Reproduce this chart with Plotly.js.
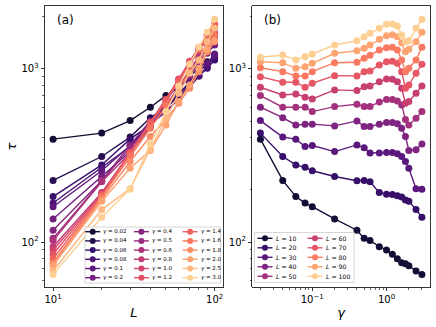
<!DOCTYPE html>
<html><head><meta charset="utf-8">
<script src="https://cdn.plot.ly/plotly-3.0.1.min.js"></script>
<style>html,body{margin:0;padding:0;background:#fff}</style>
</head><body><div id="chart" style="width:436px;height:327px"></div>
<script>
// ---- data ----
const gammaVals = [0.02,0.04,0.06,0.08,0.1,0.2,0.4,0.5,0.6,0.8,1.0,1.2,1.4,1.6,1.8,2.0,2.5,3.0];
const gammaLabels = ['0.02','0.04','0.06','0.08','0.1','0.2','0.4','0.5','0.6','0.8','1.0','1.2','1.4','1.6','1.8','2.0','2.5','3.0'];
const Lvals = [10,20,30,40,50,60,70,80,90,100];
// tau for each L, one value per gamma
const tauL10  = [393,227,183,168,160,136,117,105,102,94,90,85,80,76,75,73,68,65];
const tauL20  = [426,312,279,270,258,239,226,227,223,193,189,188,185,182,175,172,154,139];
const tauL30  = [503,404,393,356,361,333,364,351,327,327,329,329,324,312,292,267,203,202];
const tauL40  = [601,523,475,480,480,469,501,465,465,480,490,490,482,455,407,338,341,369];
const tauL50  = [702,601,601,601,567,606,626,606,606,645,667,667,654,620,511,475,519,567];
const tauL60  = [784,708,717,687,671,757,750,790,798,845,876,872,845,774,634,648,724,798];
const tauL70  = [903,838,838,784,827,915,911,965,974,1055,1102,1108,1079,965,774,809,945,1064];
const tauL80  = [1017,965,911,911,965,1087,1093,1152,1199,1287,1327,1334,1287,1127,965,1009,1127,1334];
const tauL90  = [1102,1087,1009,1031,1079,1232,1275,1317,1376,1484,1556,1578,1536,1418,1259,1300,1438,1629];
const tauL100 = [1168,1205,1127,1178,1221,1376,1456,1536,1607,1718,1811,1820,1772,1571,1438,1456,1718,1936];
const tauByL = [tauL10,tauL20,tauL30,tauL40,tauL50,tauL60,tauL70,tauL80,tauL90,tauL100];

// ---- colours (magma) ----
const magmaStops = ['#000004','#140e36','#3b0f70','#641a80','#8c2981','#b73779','#de4968','#f7705c','#fe9f6d','#fecf92','#fcfdbf'];
function hex2rgb(h){return [parseInt(h.slice(1,3),16),parseInt(h.slice(3,5),16),parseInt(h.slice(5,7),16)];}
function magma(t){
  const s=t*10, i=Math.min(9,Math.floor(s)), f=s-i;
  const a=hex2rgb(magmaStops[i]), b=hex2rgb(magmaStops[i+1]);
  const c=a.map((v,k)=>Math.round(v+(b[k]-v)*f));
  return 'rgb('+c.join(',')+')';
}
function cmap(i,n){return magma(0.1+0.8*i/(n-1));}
const colA = gammaVals.map((g,i)=>cmap(i,gammaVals.length));
const colB = Lvals.map((l,i)=>cmap(i,Lvals.length));

// ---- traces ----
const traces = [];
gammaVals.forEach((g,j)=>{
  traces.push({x:Lvals, y:tauByL.map(a=>a[j]), xaxis:'x', yaxis:'y', type:'scatter', mode:'lines+markers',
    line:{color:colA[j], width:1.4}, marker:{color:colA[j], size:7}, showlegend:false, hoverinfo:'skip'});
});
Lvals.forEach((L,i)=>{
  traces.push({x:gammaVals, y:tauByL[i], xaxis:'x2', yaxis:'y2', type:'scatter', mode:'lines+markers',
    line:{color:colB[i], width:1.4}, marker:{color:colB[i], size:7}, showlegend:false, hoverinfo:'skip'});
});

// ---- layout helpers (pixel -> paper) ----
const W=436,H=327,ML=45,MR=6,MT=6,MB=40;
const PW=W-ML-MR, PH=H-MT-MB;
const px=p=>(p-ML)/PW, py=p=>(MT+PH-p)/PH;
const FONT='DejaVu Sans, sans-serif';

const shapes=[], annotations=[];
function legendBox(x0,x1,y0,y1){
  shapes.push({type:'rect',xref:'paper',yref:'paper',x0:px(x0),x1:px(x1),y0:py(y1),y1:py(y0),
    fillcolor:'rgba(255,255,255,0.8)',line:{color:'#cccccc',width:0.8},layer:'above'});
}
function legendItem(cx,cy,half,color,label,fs,tx){
  shapes.push({type:'line',xref:'paper',yref:'paper',x0:px(cx-half),x1:px(cx+half),y0:py(cy),y1:py(cy),
    line:{color:color,width:1.4},layer:'above'});
  shapes.push({type:'circle',xref:'paper',yref:'paper',xsizemode:'pixel',ysizemode:'pixel',
    xanchor:px(cx),yanchor:py(cy),x0:-3,x1:3,y0:-3,y1:3,fillcolor:color,line:{width:0},layer:'above'});
  annotations.push({xref:'paper',yref:'paper',x:px(cx+tx),y:py(cy),xanchor:'left',yanchor:'middle',
    text:label,showarrow:false,font:{family:FONT,size:fs,color:'#000'}});
}
// legend (a)
legendBox(85,220.5,227,283);
gammaVals.forEach((g,i)=>{
  const c=Math.floor(i/6), r=i%6;
  legendItem(92.7+c*48.7, 231.7+r*9.2, 7.5, colA[i], '<i>γ</i> = '+gammaLabels[i], 5.5, 8.5);
});
// legend (b)
legendBox(254.5,354,232.5,282.3);
Lvals.forEach((L,i)=>{
  const c=Math.floor(i/5), r=i%5;
  legendItem(265+c*50, 238.3+r*9.5, 7.5, colB[i], '<i>L</i> = '+L, 6.2, 9);
});
// panel labels
annotations.push({xref:'paper',yref:'paper',x:px(65.3),y:py(19.5),xanchor:'center',yanchor:'middle',text:'(a)',showarrow:false,font:{family:FONT,size:12,color:'#000'}});
annotations.push({xref:'paper',yref:'paper',x:px(272),y:py(19.5),xanchor:'center',yanchor:'middle',text:'(b)',showarrow:false,font:{family:FONT,size:12,color:'#000'}});

const yMinor=[60,70,80,90,200,300,400,500,600,700,800,900,2000];
const axBase={type:'log',showgrid:false,zeroline:false,showline:true,mirror:true,linecolor:'#000',linewidth:0.8,
  ticks:'outside',ticklen:3.5,tickwidth:0.8,tickcolor:'#000',tickfont:{family:FONT,size:10,color:'#000'}};
const layout={
  width:W,height:H,margin:{l:ML,r:MR,t:MT,b:MB},paper_bgcolor:'#fff',plot_bgcolor:'#fff',showlegend:false,
  font:{family:FONT,color:'#000'},
  xaxis:Object.assign({},axBase,{domain:[0,177.7/PW],range:[0.95,2.05],anchor:'y',
    tickmode:'array',tickvals:[10,100],ticktext:['10<sup>1</sup>','10<sup>2</sup>'],
    minor:{tickmode:'array',tickvals:[20,30,40,50,60,70,80,90],ticks:'outside',ticklen:2,tickwidth:0.6,tickcolor:'#000'},
    title:{text:'<i>L</i>',font:{family:FONT,size:13,color:'#000'},standoff:3}}),
  yaxis:Object.assign({},axBase,{domain:[0,1],range:[1.74,3.364],anchor:'x',
    tickmode:'array',tickvals:[100,1000],ticktext:['10<sup>2</sup>','10<sup>3</sup>'],
    minor:{tickmode:'array',tickvals:yMinor,ticks:'outside',ticklen:2,tickwidth:0.6,tickcolor:'#000'},
    title:{text:'<i>τ</i>',font:{family:FONT,size:13,color:'#000'},standoff:1}}),
  xaxis2:Object.assign({},axBase,{domain:[207.3/PW,1],range:[-1.808,0.586],anchor:'y2',
    tickmode:'array',tickvals:[0.1,1],ticktext:['10<sup>−1</sup>','10<sup>0</sup>'],
    minor:{tickmode:'array',tickvals:[0.02,0.03,0.04,0.05,0.06,0.07,0.08,0.09,0.2,0.3,0.4,0.5,0.6,0.7,0.8,0.9,2,3],ticks:'outside',ticklen:2,tickwidth:0.6,tickcolor:'#000'},
    title:{text:'<i>γ</i>',font:{family:FONT,size:13,color:'#000'},standoff:3}}),
  yaxis2:Object.assign({},axBase,{domain:[0,1],range:[1.74,3.364],anchor:'x2',matches:'y',
    tickmode:'array',tickvals:[100,1000],ticktext:['10<sup>2</sup>','10<sup>3</sup>'],
    minor:{tickmode:'array',tickvals:yMinor,ticks:'outside',ticklen:2,tickwidth:0.6,tickcolor:'#000'}}),
  shapes:shapes, annotations:annotations
};
Plotly.newPlot('chart',traces,layout,{staticPlot:true,displayModeBar:false});
</script></body></html>
